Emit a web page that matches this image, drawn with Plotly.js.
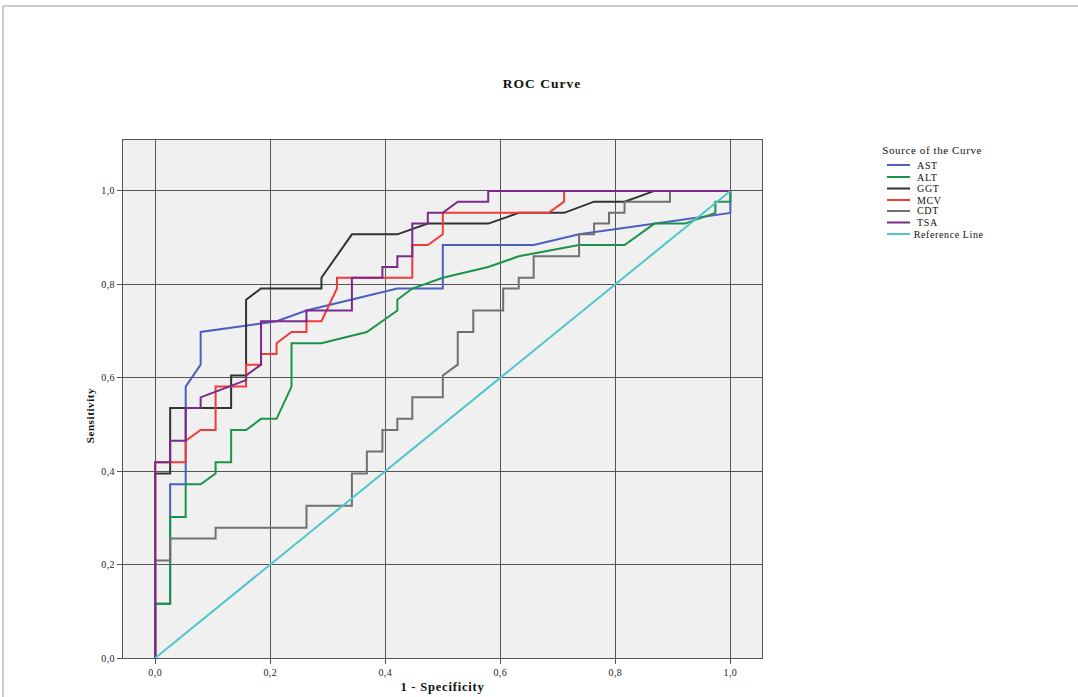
<!DOCTYPE html>
<html><head><meta charset="utf-8">
<script src="https://cdn.plot.ly/plotly-3.0.1.min.js"></script>
<style>
html,body{margin:0;padding:0;background:#fff;overflow:hidden;}
#chart{width:1078px;height:697px;}
#chart .gtitle{letter-spacing:1px;}
#chart .xtitle{letter-spacing:0.8px;}
#chart .annotation-text{letter-spacing:0.6px;}
#chart .xtick text, #chart .ytick text{letter-spacing:0.4px;}
</style>
</head><body><div id="chart"></div>
<script>
// ---- data ----
const seriesNames = ['AST', 'ALT', 'GGT', 'MCV', 'CDT', 'TSA', 'Reference Line'];
const seriesColors = ['#4a5fbf', '#1a9448', '#333333', '#f23a3a', '#707070', '#7b2a8c', '#4fc6c8'];

const astX = [0, 0, 0.026, 0.026, 0.053, 0.053, 0.079, 0.079, 0.211, 0.263, 0.421, 0.5, 0.5, 0.658, 0.737, 0.868, 1, 1];
const astY = [0, 0.116, 0.116, 0.372, 0.372, 0.581, 0.628, 0.698, 0.721, 0.744, 0.791, 0.791, 0.884, 0.884, 0.907, 0.930, 0.953, 1];

const altX = [0, 0, 0.026, 0.026, 0.053, 0.053, 0.079, 0.105, 0.105, 0.132, 0.132, 0.158, 0.184, 0.211, 0.237, 0.237, 0.289, 0.368, 0.421, 0.421, 0.447, 0.5, 0.579, 0.632, 0.737, 0.816, 0.868, 0.921, 0.974, 0.974, 1, 1];
const altY = [0, 0.116, 0.116, 0.302, 0.302, 0.372, 0.372, 0.395, 0.419, 0.419, 0.488, 0.488, 0.512, 0.512, 0.581, 0.674, 0.674, 0.698, 0.744, 0.767, 0.791, 0.814, 0.837, 0.860, 0.884, 0.884, 0.930, 0.930, 0.953, 0.977, 0.977, 1];

const ggtX = [0, 0, 0.026, 0.026, 0.132, 0.132, 0.158, 0.158, 0.184, 0.289, 0.289, 0.342, 0.421, 0.474, 0.579, 0.632, 0.711, 0.763, 0.816, 0.868, 1];
const ggtY = [0, 0.395, 0.395, 0.535, 0.535, 0.605, 0.605, 0.767, 0.791, 0.791, 0.814, 0.907, 0.907, 0.930, 0.930, 0.953, 0.953, 0.977, 0.977, 1, 1];

const mcvX = [0, 0, 0.053, 0.053, 0.079, 0.105, 0.105, 0.158, 0.158, 0.184, 0.184, 0.211, 0.211, 0.237, 0.263, 0.263, 0.289, 0.316, 0.316, 0.447, 0.447, 0.474, 0.5, 0.5, 0.684, 0.711, 0.711, 1];
const mcvY = [0, 0.419, 0.419, 0.465, 0.488, 0.488, 0.581, 0.581, 0.628, 0.628, 0.651, 0.651, 0.674, 0.698, 0.698, 0.721, 0.721, 0.791, 0.814, 0.814, 0.884, 0.884, 0.907, 0.953, 0.953, 0.977, 1, 1];

const cdtX = [0, 0, 0.026, 0.026, 0.105, 0.105, 0.263, 0.263, 0.342, 0.342, 0.368, 0.368, 0.395, 0.395, 0.421, 0.421, 0.447, 0.447, 0.5, 0.5, 0.526, 0.526, 0.553, 0.553, 0.605, 0.605, 0.632, 0.632, 0.658, 0.658, 0.737, 0.737, 0.763, 0.763, 0.789, 0.789, 0.816, 0.816, 0.895, 0.895, 1];
const cdtY = [0, 0.209, 0.209, 0.256, 0.256, 0.279, 0.279, 0.326, 0.326, 0.395, 0.395, 0.442, 0.442, 0.488, 0.488, 0.512, 0.512, 0.558, 0.558, 0.605, 0.628, 0.698, 0.698, 0.744, 0.744, 0.791, 0.791, 0.814, 0.814, 0.860, 0.860, 0.907, 0.907, 0.930, 0.930, 0.953, 0.953, 0.977, 0.977, 1, 1];

const tsaX = [0, 0, 0.026, 0.026, 0.053, 0.053, 0.079, 0.079, 0.158, 0.158, 0.184, 0.184, 0.263, 0.263, 0.342, 0.342, 0.395, 0.395, 0.421, 0.421, 0.447, 0.447, 0.474, 0.474, 0.5, 0.526, 0.579, 0.579, 1];
const tsaY = [0, 0.419, 0.419, 0.465, 0.465, 0.535, 0.535, 0.558, 0.595, 0.605, 0.628, 0.721, 0.721, 0.744, 0.744, 0.814, 0.814, 0.837, 0.837, 0.860, 0.860, 0.930, 0.930, 0.953, 0.953, 0.977, 0.977, 1, 1];

const refX = [0, 1];
const refY = [0, 1];

const tickVals = [0, 0.2, 0.4, 0.6, 0.8, 1.0];
const tickText = ['0,0', '0,2', '0,4', '0,6', '0,8', '1,0'];

// ---- chart ----
const allX = [astX, altX, ggtX, mcvX, cdtX, tsaX, refX];
const allY = [astY, altY, ggtY, mcvY, cdtY, tsaY, refY];

const traces = seriesNames.map((n, i) => ({
  type: 'scatter', mode: 'lines', name: n,
  x: allX[i], y: allY[i],
  line: {color: seriesColors[i], width: 2},
  hoverinfo: 'skip', showlegend: false
}));

const W = 1078, H = 697;
const M = {l: 123, r: 316, t: 140, b: 39};
const PW = W - M.l - M.r, PH = H - M.t - M.b;
const px2x = p => (p - M.l) / PW;
const py2y = p => (H - M.b - p) / PH;

const FONT = 'Liberation Serif, Times New Roman, serif';

const shapes = [
  {type: 'line', xref: 'paper', yref: 'paper', x0: px2x(3), x1: px2x(1078), y0: py2y(6), y1: py2y(6), line: {color: '#9a9a9a', width: 1}},
  {type: 'line', xref: 'paper', yref: 'paper', x0: px2x(3), x1: px2x(3), y0: py2y(6), y1: py2y(697), line: {color: '#9a9a9a', width: 1}}
];
const annotations = [
  {xref: 'paper', yref: 'paper', x: px2x(886), y: py2y(150), xanchor: 'left', yanchor: 'middle', showarrow: false,
   text: 'Source of the Curve', font: {family: FONT, size: 11, color: '#111'}},
  {xref: 'paper', yref: 'paper', x: px2x(90), y: py2y(416), xanchor: 'center', yanchor: 'middle', showarrow: false, textangle: -90,
   text: '<b>Sensitivity</b>', font: {family: FONT, size: 11, color: '#111'}}
];
const legendY = [165, 177, 188.5, 200, 211, 222.5, 234];
seriesNames.forEach((n, i) => {
  shapes.push({type: 'line', xref: 'paper', yref: 'paper', x0: px2x(887), x1: px2x(910), y0: py2y(legendY[i]), y1: py2y(legendY[i]),
    line: {color: seriesColors[i], width: 2}});
  annotations.push({xref: 'paper', yref: 'paper', x: px2x(916), y: py2y(legendY[i]), xanchor: 'left', yanchor: 'middle', showarrow: false,
    text: n, font: {family: FONT, size: 10, color: '#111'}});
});

const axisCommon = {
  tickvals: tickVals, ticktext: tickText,
  showgrid: true, gridcolor: '#555', gridwidth: 1,
  zeroline: false, showline: true, linecolor: '#555', linewidth: 1, mirror: true,
  ticks: 'outside', ticklen: 5, tickcolor: '#555',
  tickfont: {family: FONT, size: 10, color: '#222'}
};

const layout = {
  width: W, height: H, margin: M,
  paper_bgcolor: '#ffffff', plot_bgcolor: '#f0f0f0',
  title: {text: '<b>ROC Curve</b>', x: 542 / W, xref: 'container', xanchor: 'center', y: 1 - 83 / H, yref: 'container', yanchor: 'middle',
    font: {family: FONT, size: 13.5, color: '#111'}},
  xaxis: Object.assign({}, axisCommon, {range: [-0.056, 1.055],
    title: {text: '<b>1 - Specificity</b>', font: {family: FONT, size: 12.5, color: '#111'}, standoff: 5}}),
  yaxis: Object.assign({}, axisCommon, {range: [0, 1.109]}),
  shapes: shapes, annotations: annotations, showlegend: false
};

Plotly.newPlot('chart', traces, layout, {displayModeBar: false, staticPlot: true});
</script>
</body></html>
